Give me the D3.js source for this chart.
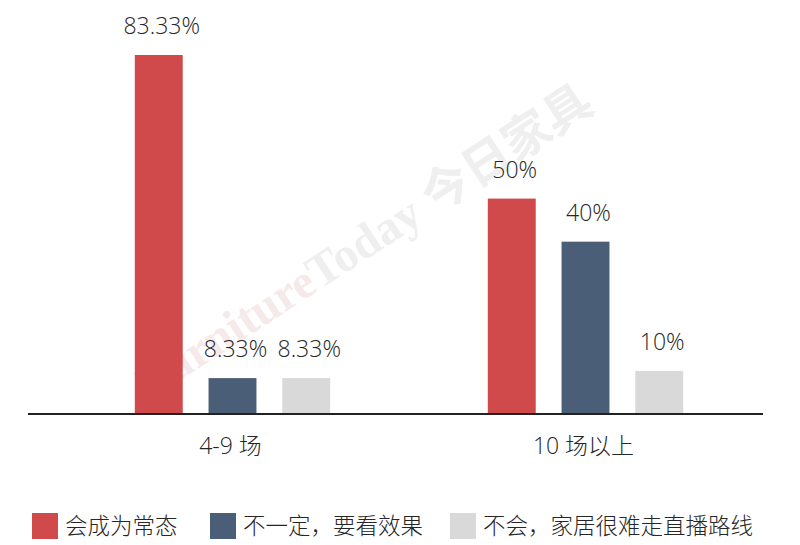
<!DOCTYPE html>
<html>
<head>
<meta charset="utf-8">
<script src="https://cdn.jsdelivr.net/npm/d3@7"></script>
<style>
  html, body { margin: 0; padding: 0; background: #fff; }
  svg { display: block; }
</style>
</head>
<body>
<div id="chart"></div>
<script>
// categories and series
const categories = ["4-9 场", "10 场以上"];
const seriesNames = ["会成为常态", "不一定，要看效果", "不会，家居很难走直播路线"];
const seriesColors = ["#d0494b", "#4b5e77", "#d9d9d9"];

// values per series, one entry per category (percent)
const normalValues = [83.33, 50];
const maybeValues = [8.33, 40];
const neverValues = [8.33, 10];

const valueLabels = [
    ["83.33%", "50%"],
    ["8.33%", "40%"],
    ["8.33%", "10%"]
];

const width = 800;
const height = 545;
const baseY = 414;

const svg = d3.select("#chart").append("svg")
    .attr("width", width)
    .attr("height", height);

// Watermark
const wm = svg.append("g")
    .attr("transform", "translate(150, 400) rotate(-33)")
    .append("text")
    .attr("font-family", "'Liberation Serif', 'Noto Sans CJK SC', serif")
    .attr("font-size", 48)
    .attr("font-weight", "bold")
    .attr("opacity", 0.55);
wm.append("tspan").attr("fill", "#f0d8d8").text("Furniture");
wm.append("tspan").attr("fill", "#e2e2e2").text("Today 今日家具");

// Scales
const x0 = d3.scaleBand()
    .domain(categories)
    .range([56, 762]);

const x1 = d3.scaleBand()
    .domain(seriesNames)
    .range([x0.bandwidth() / 2 - 97.7, x0.bandwidth() / 2 + 97.7])
    .paddingInner(0.35);

const y = d3.scaleLinear()
    .domain([0, 83.33])
    .range([baseY, 55]);

const seriesValues = [normalValues, maybeValues, neverValues];

const rows = [];
seriesNames.forEach((s, i) => {
    categories.forEach((c, j) => {
        rows.push({ series: s, cat: c, value: seriesValues[i][j], label: valueLabels[i][j], color: seriesColors[i] });
    });
});

// Bars
svg.append("g")
    .selectAll("rect")
    .data(rows)
    .join("rect")
    .attr("x", d => x0(d.cat) + x1(d.series))
    .attr("y", d => y(d.value))
    .attr("width", x1.bandwidth())
    .attr("height", d => baseY - y(d.value))
    .attr("fill", d => d.color);

// Value labels
svg.append("g")
    .selectAll("text")
    .data(rows)
    .join("text")
    .attr("x", d => x0(d.cat) + x1(d.series) + x1.bandwidth() / 2 + 3)
    .attr("y", d => y(d.value) - 21)
    .attr("text-anchor", "middle")
    .attr("font-family", "'Open Sans', 'Noto Sans CJK SC', sans-serif")
    .attr("font-weight", 300)
    .attr("font-size", 23)
    .attr("fill", "#262626")
    .text(d => d.label);

// Axis line
svg.append("line")
    .attr("x1", 28)
    .attr("x2", 763)
    .attr("y1", baseY)
    .attr("y2", baseY)
    .attr("stroke", "#222")
    .attr("stroke-width", 2);

// Category labels
svg.append("g")
    .selectAll("text")
    .data(categories)
    .join("text")
    .attr("x", d => x0(d) + x0.bandwidth() / 2 - 2)
    .attr("y", 454)
    .attr("text-anchor", "middle")
    .attr("font-family", "'Open Sans', 'Noto Sans CJK SC', sans-serif")
    .attr("font-weight", 300)
    .attr("font-size", 23)
    .attr("fill", "#262626")
    .text(d => d);

// Legend
const legendX = [32, 210, 450];
const legend = svg.append("g");
seriesNames.forEach((s, i) => {
    const g = legend.append("g").attr("transform", `translate(${legendX[i]}, 513)`);
    g.append("rect")
        .attr("width", 26)
        .attr("height", 26)
        .attr("fill", seriesColors[i]);
    g.append("text")
        .attr("x", 33)
        .attr("y", 21)
        .attr("font-family", "'Noto Sans CJK SC', sans-serif")
        .attr("font-weight", 300)
        .attr("font-size", 22.5)
        .attr("fill", "#262626")
        .text(s);
});
</script>
</body>
</html>
